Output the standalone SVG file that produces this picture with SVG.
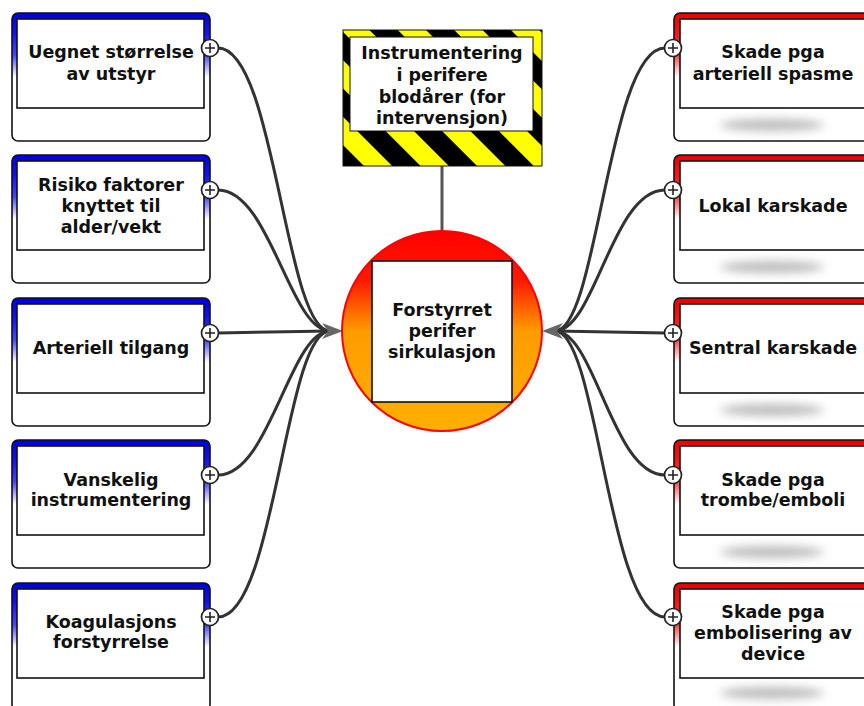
<svg xmlns="http://www.w3.org/2000/svg" width="864" height="706" viewBox="0 0 864 706">
<defs>
<linearGradient id="gBlue" x1="0" y1="0" x2="0" y2="1">
<stop offset="0" stop-color="#0000e0"/>
<stop offset="0.15" stop-color="#1010ff"/>
<stop offset="0.33" stop-color="#4848ff"/>
<stop offset="0.5" stop-color="#ffffff"/>
<stop offset="1" stop-color="#ffffff"/>
</linearGradient>
<linearGradient id="gRed" x1="0" y1="0" x2="0" y2="1">
<stop offset="0" stop-color="#e80000"/>
<stop offset="0.15" stop-color="#ff1010"/>
<stop offset="0.33" stop-color="#ff4848"/>
<stop offset="0.5" stop-color="#ffffff"/>
<stop offset="1" stop-color="#ffffff"/>
</linearGradient>
<linearGradient id="gCircle" x1="0" y1="0" x2="0" y2="1">
<stop offset="0" stop-color="#ff0000"/>
<stop offset="0.25" stop-color="#ff1a00"/>
<stop offset="0.5" stop-color="#ff9c00"/>
<stop offset="1" stop-color="#ffb000"/>
</linearGradient>
<pattern id="hazard" width="40" height="40" patternUnits="userSpaceOnUse" patternTransform="rotate(-45)">
<rect width="40" height="40" fill="#ffff00"/>
<rect width="20" height="40" fill="#000000"/>
</pattern>
<filter id="blur" x="-50%" y="-200%" width="200%" height="500%">
<feGaussianBlur stdDeviation="5"/>
</filter>
</defs>
<style>
.outer{stroke:#111;stroke-width:1.6}
.inner{fill:#fff;stroke:#111;stroke-width:1.6}
.lbl{font-family:"DejaVu Sans",Verdana,sans-serif;font-weight:bold;font-size:17.5px;fill:#111;text-anchor:middle;dominant-baseline:central}
.plus circle{fill:#fff;stroke:#222;stroke-width:1.7}
.plus path{stroke:#222;stroke-width:1.6;fill:none}
.conn{fill:none;stroke:#333;stroke-width:3}
.shadow{fill:#bbb;filter:url(#blur)}
</style>

<g id="connectors">
<path class="conn" d="M218,48 C275,48 285,331 330,331"/>
<path class="conn" d="M218,190 C270,190 290,331 330,331"/>
<path class="conn" d="M218,333 L330,331"/>
<path class="conn" d="M218,475 C270,475 290,331 330,331"/>
<path class="conn" d="M218,617 C275,617 285,331 330,331"/>
<path class="conn" d="M665,48 C608,48 598,331 555,331"/>
<path class="conn" d="M665,190 C612,190 595,331 555,331"/>
<path class="conn" d="M665,333 L555,331"/>
<path class="conn" d="M665,475 C612,475 595,331 555,331"/>
<path class="conn" d="M665,617 C608,617 598,331 555,331"/>
<path d="M442,166 L442,232" stroke="#555" stroke-width="3" fill="none"/>
<polygon points="322,323 343,331 322,339 328,331" fill="#666"/>
<polygon points="563,323 542,331 563,339 557,331" fill="#666"/>
</g>

<g id="top">
<rect x="343" y="30" width="199" height="136" fill="url(#hazard)" stroke="#111" stroke-width="1"/>
<rect x="350" y="37" width="183" height="94" fill="#fff" stroke="#111" stroke-width="1"/>
<text class="lbl"><tspan x="442" y="53">Instrumentering</tspan><tspan x="442" y="75">i perifere</tspan><tspan x="442" y="97">blodårer (for</tspan><tspan x="442" y="118">intervensjon)</tspan></text>
</g>

<g id="center">
<circle cx="442" cy="331" r="100" fill="url(#gCircle)" stroke="#ff0000" stroke-width="2"/>
<rect x="372" y="261" width="140" height="141" fill="#fff" stroke="#111" stroke-width="1.6"/>
<text class="lbl"><tspan x="442" y="310">Forstyrret</tspan><tspan x="442" y="331">perifer</tspan><tspan x="442" y="352">sirkulasjon</tspan></text>
</g>

<g id="L1">
<rect class="outer" x="12" y="13" width="198" height="128" rx="6" fill="url(#gBlue)"/>
<rect class="inner" x="17" y="19" width="187" height="89"/>
<text class="lbl"><tspan x="111" y="52">Uegnet størrelse</tspan><tspan x="111" y="74">av utstyr</tspan></text>
<g class="plus"><circle cx="210" cy="48" r="8.5"/><path d="M205,48 H215 M210,43 V53"/></g>
</g>
<g id="L2">
<rect class="outer" x="12" y="155" width="198" height="128" rx="6" fill="url(#gBlue)"/>
<rect class="inner" x="17" y="161" width="187" height="89"/>
<text class="lbl"><tspan x="111" y="185">Risiko faktorer</tspan><tspan x="111" y="206">knyttet til</tspan><tspan x="111" y="227">alder/vekt</tspan></text>
<g class="plus"><circle cx="210" cy="190" r="8.5"/><path d="M205,190 H215 M210,185 V195"/></g>
</g>
<g id="L3">
<rect class="outer" x="12" y="298" width="198" height="128" rx="6" fill="url(#gBlue)"/>
<rect class="inner" x="17" y="304" width="187" height="89"/>
<text class="lbl" x="111" y="348">Arteriell tilgang</text>
<g class="plus"><circle cx="210" cy="333" r="8.5"/><path d="M205,333 H215 M210,328 V338"/></g>
</g>
<g id="L4">
<rect class="outer" x="12" y="440" width="198" height="128" rx="6" fill="url(#gBlue)"/>
<rect class="inner" x="17" y="446" width="187" height="89"/>
<text class="lbl"><tspan x="111" y="480">Vanskelig</tspan><tspan x="111" y="500">instrumentering</tspan></text>
<g class="plus"><circle cx="210" cy="475" r="8.5"/><path d="M205,475 H215 M210,470 V480"/></g>
</g>
<g id="L5">
<rect class="outer" x="12" y="583" width="198" height="128" rx="6" fill="url(#gBlue)"/>
<rect class="inner" x="17" y="589" width="187" height="89"/>
<text class="lbl"><tspan x="111" y="622">Koagulasjons</tspan><tspan x="111" y="642">forstyrrelse</tspan></text>
<g class="plus"><circle cx="210" cy="617" r="8.5"/><path d="M205,617 H215 M210,612 V622"/></g>
</g>

<g id="R1">
<rect class="outer" x="674" y="13" width="198" height="128" rx="6" fill="url(#gRed)"/>
<ellipse class="shadow" cx="772" cy="125" rx="52" ry="6"/>
<rect class="inner" x="680" y="19" width="190" height="89"/>
<text class="lbl"><tspan x="773" y="52">Skade pga</tspan><tspan x="773" y="74">arteriell spasme</tspan></text>
<g class="plus"><circle cx="673" cy="48" r="8.5"/><path d="M668,48 H678 M673,43 V53"/></g>
</g>
<g id="R2">
<rect class="outer" x="674" y="155" width="198" height="128" rx="6" fill="url(#gRed)"/>
<ellipse class="shadow" cx="772" cy="267" rx="52" ry="6"/>
<rect class="inner" x="680" y="161" width="190" height="89"/>
<text class="lbl" x="773" y="206">Lokal karskade</text>
<g class="plus"><circle cx="673" cy="190" r="8.5"/><path d="M668,190 H678 M673,185 V195"/></g>
</g>
<g id="R3">
<rect class="outer" x="674" y="298" width="198" height="128" rx="6" fill="url(#gRed)"/>
<ellipse class="shadow" cx="772" cy="410" rx="52" ry="6"/>
<rect class="inner" x="680" y="304" width="190" height="89"/>
<text class="lbl" x="773" y="348">Sentral karskade</text>
<g class="plus"><circle cx="673" cy="333" r="8.5"/><path d="M668,333 H678 M673,328 V338"/></g>
</g>
<g id="R4">
<rect class="outer" x="674" y="440" width="198" height="128" rx="6" fill="url(#gRed)"/>
<ellipse class="shadow" cx="772" cy="552" rx="52" ry="6"/>
<rect class="inner" x="680" y="446" width="190" height="89"/>
<text class="lbl"><tspan x="773" y="480">Skade pga</tspan><tspan x="773" y="500">trombe/emboli</tspan></text>
<g class="plus"><circle cx="673" cy="475" r="8.5"/><path d="M668,475 H678 M673,470 V480"/></g>
</g>
<g id="R5">
<rect class="outer" x="674" y="583" width="198" height="128" rx="6" fill="url(#gRed)"/>
<ellipse class="shadow" cx="772" cy="693" rx="52" ry="6"/>
<rect class="inner" x="680" y="589" width="190" height="89"/>
<text class="lbl"><tspan x="773" y="612">Skade pga</tspan><tspan x="773" y="633">embolisering av</tspan><tspan x="773" y="654">device</tspan></text>
<g class="plus"><circle cx="673" cy="617" r="8.5"/><path d="M668,617 H678 M673,612 V622"/></g>
</g>
</svg>
